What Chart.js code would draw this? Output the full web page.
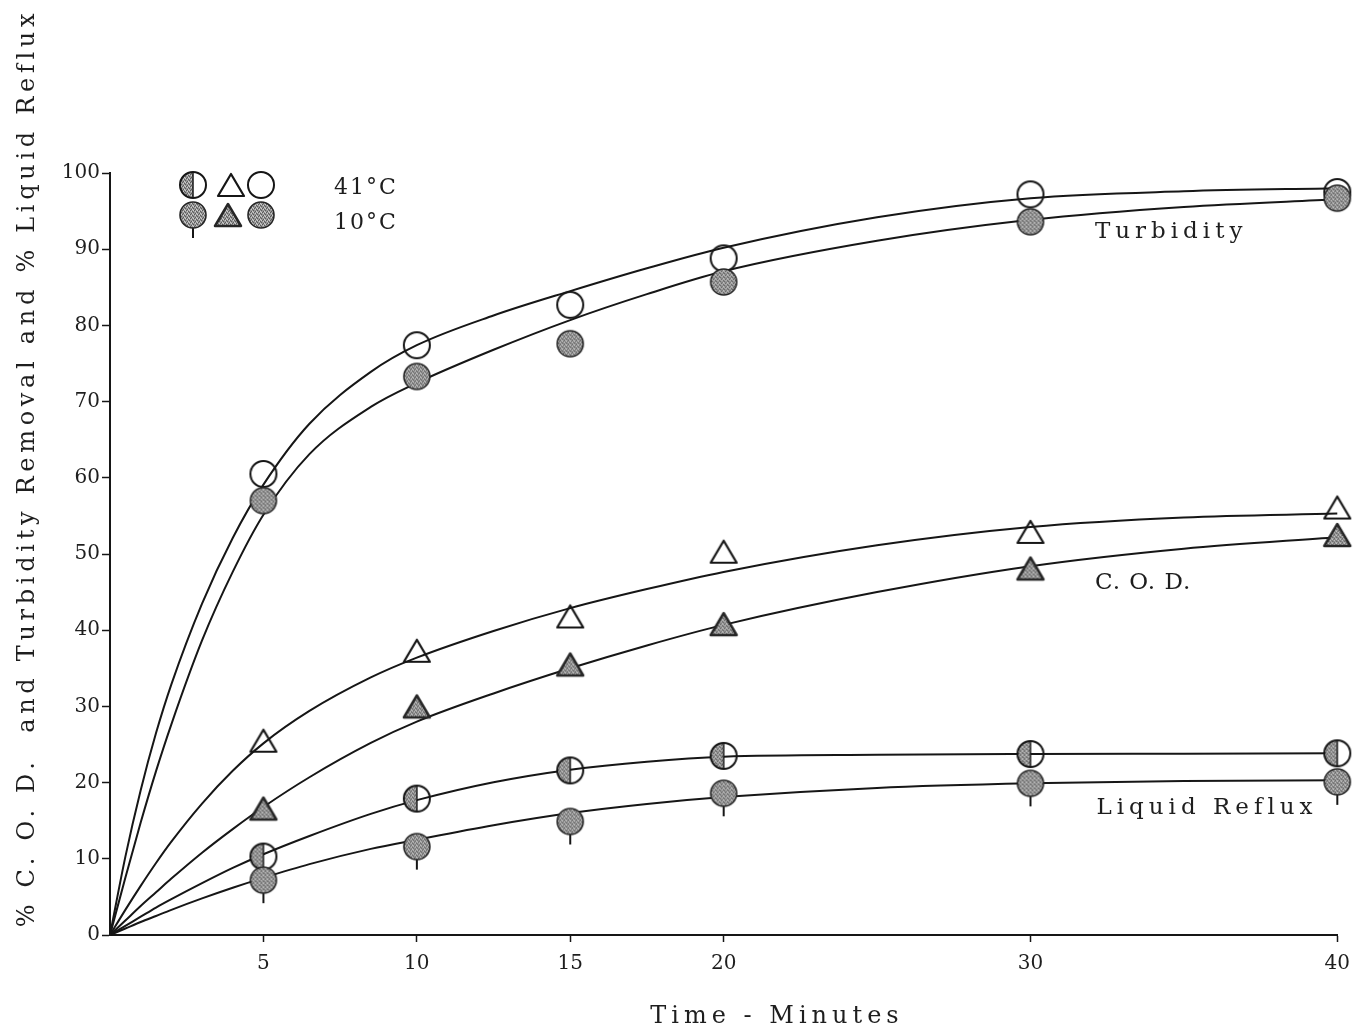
<!DOCTYPE html>
<html>
<head>
<meta charset="utf-8">
<title>C.O.D., Turbidity Removal and Liquid Reflux vs Time</title>
<script src="https://cdn.jsdelivr.net/npm/chart.js@4.4.1/dist/chart.umd.min.js"></script>
<style>
  html, body { margin: 0; padding: 0; background: #fff; }
  #chart { display: block; }
</style>
</head>
<body>
<canvas id="chart" width="1360" height="1033"></canvas>
<script>
// sampling times, minutes
const sampleTimes = [5, 10, 15, 20, 30, 40];
const xTickValues = [5, 10, 15, 20, 30, 40];

// measured removal / reflux, percent
const turbidity41 = [60.5, 77.4, 82.7, 88.8, 97.2, 97.5];
const turbidity10 = [57.0, 73.3, 77.6, 85.7, 93.6, 96.7];
const cod41 = [25.5, 37.3, 41.8, 50.3, 52.9, 56.1];
const cod10 = [16.6, 30.0, 35.5, 40.8, 48.1, 52.5];
const reflux41 = [10.3, 17.9, 21.6, 23.5, 23.75, 23.85];
const reflux10 = [7.2, 11.6, 14.9, 18.6, 19.9, 20.1];

const curveTimes = [0, 0.5, 1, 1.5, 2, 3, 4, 5, 6.5, 8.5, 10, 12.5, 15, 17.5, 20, 25, 30, 35, 40];
const turbidity41Curve = [0, 10.25, 19.0, 26.5, 32.9, 43.5, 52.1, 59.1, 67.1, 73.9, 77.4, 81.3, 84.5, 87.5, 90.2, 94.2, 96.7, 97.6, 98.0];
const turbidity10Curve = [0, 7.5, 14.75, 21.5, 27.65, 38.65, 47.65, 55.15, 63.1, 69.3, 72.45, 76.8, 80.7, 84.1, 87.1, 91.1, 93.85, 95.55, 96.55];
const cod41Curve = [0, 3.3, 6.45, 9.45, 12.25, 17.25, 21.55, 25.15, 29.4, 33.8, 36.4, 39.9, 42.9, 45.4, 47.65, 51.15, 53.55, 54.8, 55.3];
const cod10Curve = [0, 1.9, 3.8, 5.6, 7.4, 10.8, 13.9, 16.8, 20.7, 25.2, 28.0, 31.7, 35.0, 38.0, 40.7, 45.0, 48.4, 50.7, 52.2];
const reflux41Curve = [0, 1.2, 2.4, 3.6, 4.7, 6.8, 8.8, 10.6, 13.0, 15.9, 17.7, 20.05, 21.7, 22.75, 23.4, 23.65, 23.75, 23.8, 23.85];
const reflux10Curve = [0, 0.85, 1.7, 2.5, 3.3, 4.8, 6.2, 7.5, 9.3, 11.3, 12.5, 14.4, 16.0, 17.2, 18.1, 19.3, 19.9, 20.2, 20.3];

const INK = '#161616';
const SERIF = '"DejaVu Serif", "Liberation Serif", serif';
const R = 13;

// ---- marker images ----
function makeCanvas(w, h) {
    const c = document.createElement('canvas');
    c.width = w;
    c.height = h;
    return c;
}

// speckled grey used for the 10 deg C points
function shadePattern(ctx) {
    const tile = makeCanvas(4, 4);
    const t = tile.getContext('2d');
    t.fillStyle = '#979797';
    t.fillRect(0, 0, 4, 4);
    t.fillStyle = '#5a5a5a';
    t.fillRect(0, 0, 1, 1);
    t.fillRect(2, 1, 1, 1);
    t.fillRect(1, 3, 1, 1);
    t.fillRect(3, 2, 1, 1);
    t.fillStyle = '#cfcfcf';
    t.fillRect(1, 1, 1, 1);
    t.fillRect(3, 0, 1, 1);
    t.fillRect(2, 3, 1, 1);
    return ctx.createPattern(tile, 'repeat');
}

function openCircle() {
    const c = makeCanvas(2 * R + 4, 2 * R + 4);
    const g = c.getContext('2d');
    g.beginPath();
    g.arc(c.width / 2, c.height / 2, R, 0, Math.PI * 2);
    g.lineWidth = 2;
    g.strokeStyle = INK;
    g.stroke();
    return c;
}

function shadedCircle(tail) {
    const extra = tail ? 10 : 0;
    const c = makeCanvas(2 * R + 4, 2 * (R + 2 + extra));
    const g = c.getContext('2d');
    const cx = c.width / 2, cy = c.height / 2;
    if (tail) {
        g.beginPath();
        g.moveTo(cx, cy + R);
        g.lineTo(cx, cy + R + extra);
        g.lineWidth = 2;
        g.strokeStyle = INK;
        g.stroke();
    }
    g.beginPath();
    g.arc(cx, cy, R, 0, Math.PI * 2);
    g.fillStyle = shadePattern(g);
    g.fill();
    g.lineWidth = 1.6;
    g.strokeStyle = '#262626';
    g.stroke();
    return c;
}

function halfCircle() {
    const c = makeCanvas(2 * R + 4, 2 * R + 4);
    const g = c.getContext('2d');
    const cx = c.width / 2, cy = c.height / 2;
    g.beginPath();
    g.arc(cx, cy, R, Math.PI / 2, Math.PI * 1.5);
    g.closePath();
    g.fillStyle = shadePattern(g);
    g.fill();
    g.beginPath();
    g.moveTo(cx, cy - R);
    g.lineTo(cx, cy + R);
    g.lineWidth = 1.5;
    g.strokeStyle = INK;
    g.stroke();
    g.beginPath();
    g.arc(cx, cy, R, 0, Math.PI * 2);
    g.lineWidth = 2;
    g.stroke();
    return c;
}

function triangle(shaded) {
    const c = makeCanvas(32, 32);
    const g = c.getContext('2d');
    g.beginPath();
    g.moveTo(16, 5);
    g.lineTo(29, 27);
    g.lineTo(3, 27);
    g.closePath();
    g.lineJoin = 'round';
    if (shaded) {
        g.fillStyle = shadePattern(g);
        g.fill();
        g.lineWidth = 2.5;
        g.strokeStyle = '#262626';
    } else {
        g.lineWidth = 2.2;
        g.strokeStyle = INK;
    }
    g.stroke();
    return c;
}

const markers = {
    open: openCircle(),
    shaded: shadedCircle(false),
    pin: shadedCircle(true),
    half: halfCircle(),
    openTri: triangle(false),
    shadedTri: triangle(true)
};

function toPoints(xs, ys) {
    return xs.map((x, i) => ({ x: x, y: ys[i] }));
}

function curve(values) {
    return {
        data: toPoints(curveTimes, values),
        borderColor: INK,
        borderWidth: 2,
        pointRadius: 0,
        cubicInterpolationMode: 'monotone',
        fill: false,
        clip: false,
        order: 5
    };
}

function marks(values, style) {
    return {
        data: toPoints(sampleTimes, values),
        showLine: false,
        pointStyle: style,
        pointRadius: R,
        clip: false,
        order: 1
    };
}

// legend block, curve labels and axis titles
const labelsPlugin = {
    id: 'labels',
    afterDatasetsDraw(chart) {
        const ctx = chart.ctx;
        const xs = chart.scales.x, ys = chart.scales.y;
        ctx.save();
        ctx.fillStyle = '#1e1e1e';
        ctx.textBaseline = 'middle';

        // key
        const key = [
            [markers.half, 193, 185], [markers.openTri, 231, 185], [markers.open, 261, 185],
            [markers.pin, 193, 215], [markers.shadedTri, 228, 215], [markers.shaded, 261, 215]
        ];
        key.forEach(([img, x, y]) => ctx.drawImage(img, x - img.width / 2, y - img.height / 2));
        ctx.font = '22px ' + SERIF;
        ctx.letterSpacing = '2px';
        ctx.textAlign = 'left';
        ctx.fillText('41\u00B0C', 334, 188);
        ctx.fillText('10\u00B0C', 334, 223);

        // curve names
        ctx.font = '23px ' + SERIF;
        ctx.letterSpacing = '5px';
        ctx.fillText('Turbidity', xs.getPixelForValue(32.1), ys.getPixelForValue(92.3));
        ctx.fillText('Liquid Reflux', xs.getPixelForValue(32.15), ys.getPixelForValue(16.7));
        ctx.letterSpacing = '1px';
        ctx.fillText('C. O. D.', xs.getPixelForValue(32.1), ys.getPixelForValue(46.2));

        // axis titles
        ctx.font = '24px ' + SERIF;
        ctx.letterSpacing = '5px';
        ctx.textAlign = 'center';
        ctx.fillText('Time - Minutes', 777, 1017);

        ctx.translate(28, 468);
        ctx.rotate(-Math.PI / 2);
        ctx.letterSpacing = '4.7px';
        ctx.fillText('% C. O. D.  and Turbidity Removal and % Liquid Reflux', 0, 0);
        ctx.restore();
    }
};

const tickFont = { family: SERIF, size: 20 };

new Chart(document.getElementById('chart'), {
    type: 'line',
    data: {
        datasets: [
            marks(turbidity10, markers.shaded),
            marks(cod10, markers.shadedTri),
            marks(reflux10, markers.pin),
            marks(reflux41, markers.half),
            marks(turbidity41, markers.open),
            marks(cod41, markers.openTri),
            curve(turbidity41Curve),
            curve(turbidity10Curve),
            curve(cod41Curve),
            curve(cod10Curve),
            curve(reflux41Curve),
            curve(reflux10Curve)
        ]
    },
    options: {
        responsive: false,
        animation: false,
        devicePixelRatio: 1,
        layout: { padding: { top: 173, right: 22, bottom: 0, left: 0 } },
        plugins: {
            legend: { display: false },
            tooltip: { enabled: false }
        },
        scales: {
            x: {
                type: 'linear',
                min: 0,
                max: 40,
                afterBuildTicks: s => { s.ticks = xTickValues.map(v => ({ value: v })); },
                afterFit: s => { s.height = 98; },
                border: { color: INK, width: 2 },
                grid: { drawOnChartArea: false, tickLength: 7, tickColor: INK, tickWidth: 1.5 },
                ticks: { font: tickFont, color: '#1e1e1e', padding: 10, maxRotation: 0, autoSkip: false }
            },
            y: {
                min: 0,
                max: 100,
                afterFit: s => { s.width = 110; },
                border: { color: INK, width: 2 },
                grid: { drawOnChartArea: false, tickLength: 8, tickColor: INK, tickWidth: 1.5 },
                ticks: { stepSize: 10, font: tickFont, color: '#1e1e1e', padding: 2 }
            }
        }
    },
    plugins: [labelsPlugin]
});
</script>
</body>
</html>
